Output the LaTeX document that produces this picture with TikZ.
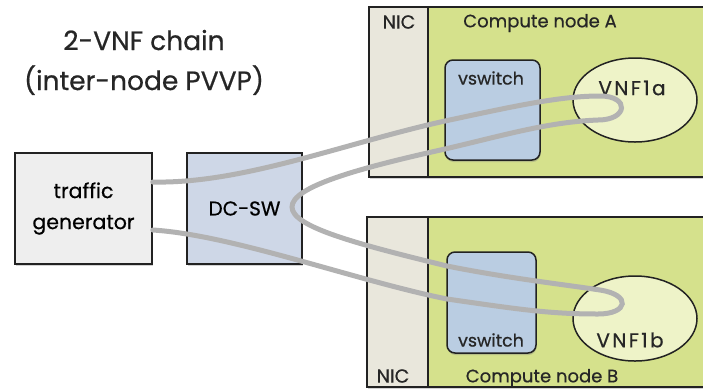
\documentclass[tikz,border=0pt]{standalone}
\usepackage{fontspec}
\setmainfont{Poppins}[FakeBold=0.6]
\usepackage{xcolor}
\usepackage{tikz}
\usetikzlibrary{shapes,positioning,calc,shadows}

\definecolor{nodegreen}{RGB}{213,225,140}
\definecolor{nicgray}{RGB}{233,231,220}
\definecolor{vswblue}{RGB}{186,205,226}
\definecolor{vnfyellow}{RGB}{238,243,200}
\definecolor{swblue}{RGB}{206,215,231}
\definecolor{tggray}{RGB}{238,238,238}
\definecolor{cablegray}{RGB}{178,178,178}
\definecolor{edge}{RGB}{34,34,34}

\tikzset{
  box/.style={draw=edge, line width=1.5pt, inner sep=0pt},
  shadowed/.style={drop shadow={shadow xshift=0.5pt, shadow yshift=-2pt, opacity=0.35}},
  cable/.style={draw=cablegray, line width=5pt, line cap=round},
  lbl/.style={inner sep=0pt, text=black!85}
}

\begin{document}
\begin{tikzpicture}[x=1pt, y=-1pt]
    \useasboundingbox (0, 0) rectangle (703, 389);
    \clip (0, 0) rectangle (703, 389);

    % Title
    \node [lbl, anchor=base, font=\fontsize{26.5}{30}\selectfont] (title1) at (144, 50) {2-VNF chain};
    \node [lbl, anchor=base, font=\fontsize{26.5}{30}\selectfont] (title2) at (144, 90) {(inter-node PVVP)};

    % Traffic generator and DC switch
    \node [box, shadowed, fill=tggray, minimum width=137, minimum height=111, align=center,
           font=\fontsize{20.5}{31}\selectfont] (tg) at (83.5, 208.5) {traffic\\generator};
    \node [box, shadowed, fill=swblue, minimum width=115, minimum height=111,
           font=\fontsize{20}{22}\selectfont] (dcsw) at (244.5, 208.5) {DC-SW};

    % Compute node A
    \node [box, shadowed, fill=nodegreen, minimum width=351, minimum height=170] (nodeA) at (544.5, 92) {};
    \node [box, fill=nicgray, minimum width=59, minimum height=170] (nicA) at (398.5, 92) {};
    \node [lbl, font=\fontsize{19}{20}\selectfont] (nicAlbl) at (399, 22) {NIC};
    \node [lbl, font=\fontsize{18}{20}\selectfont] (nodeAlbl) at (540, 23) {Compute node A};
    \node [box, shadowed, fill=vswblue, rounded corners=8pt, minimum width=95, minimum height=100] (vswA) at (492.5, 110) {};
    \node [lbl, font=\fontsize{17.5}{20}\selectfont] (vswAlbl) at (491, 78) {vswitch};
    \node [box, ellipse, fill=vnfyellow, minimum width=124, minimum height=84] (vnfA) at (635, 100) {};
    \node [lbl, font=\fontsize{20}{22}\selectfont\addfontfeature{LetterSpace=12}] (vnfAlbl) at (632, 88) {VNF1a};

    % Compute node B
    \node [box, shadowed, fill=nodegreen, minimum width=353, minimum height=170] (nodeB) at (543.5, 302) {};
    \node [box, fill=nicgray, minimum width=61, minimum height=170] (nicB) at (397.5, 302) {};
    \node [lbl, font=\fontsize{19}{20}\selectfont] (nicBlbl) at (393, 376) {NIC};
    \node [lbl, font=\fontsize{18}{20}\selectfont] (nodeBlbl) at (542, 378) {Compute node B};
    \node [box, shadowed, fill=vswblue, rounded corners=8pt, minimum width=89, minimum height=101] (vswB) at (491.5, 302.5) {};
    \node [lbl, font=\fontsize{17.5}{20}\selectfont] (vswBlbl) at (491, 340) {vswitch};
    \node [box, ellipse, fill=vnfyellow, minimum width=124, minimum height=85] (vnfB) at (635, 318.5) {};
    \node [lbl, font=\fontsize{20}{22}\selectfont\addfontfeature{LetterSpace=12}] (vnfBlbl) at (630, 340) {VNF1b};

    % Cable path
    \coordinate (t1) at (tg.east |- 0, 182);
    \coordinate (a1) at (445, 121);
    \coordinate (topA) at (600, 96);
    \coordinate (botA) at (598, 120);
    \coordinate (a2) at (445, 149);
    \coordinate (uturn) at (292, 207);
    \coordinate (b1) at (447, 266);
    \coordinate (topB) at (600, 290);
    \coordinate (botB) at (598, 314);
    \coordinate (b2) at (447, 299);
    \coordinate (t2) at (tg.east |- 0, 230);
    \draw [cable] (t1) .. controls +(90, 2) and +(-100, 22) .. (a1)
        .. controls +(70, -15) and +(-40, 0) .. (topA)
        .. controls +(30, 0) and +(30, 0) .. (botA)
        .. controls +(-50, 2) and +(60, -14) .. (a2)
        .. controls +(-90, 20) and +(0, -20) .. (uturn)
        .. controls +(0, 20) and +(-90, -22) .. (b1)
        .. controls +(60, 12) and +(-40, -6) .. (topB)
        .. controls +(32, 5) and +(30, 0) .. (botB)
        .. controls +(-50, 0) and +(70, 10) .. (b2)
        .. controls +(-90, -18) and +(80, 5) .. (t2);
\end{tikzpicture}
\end{document}
